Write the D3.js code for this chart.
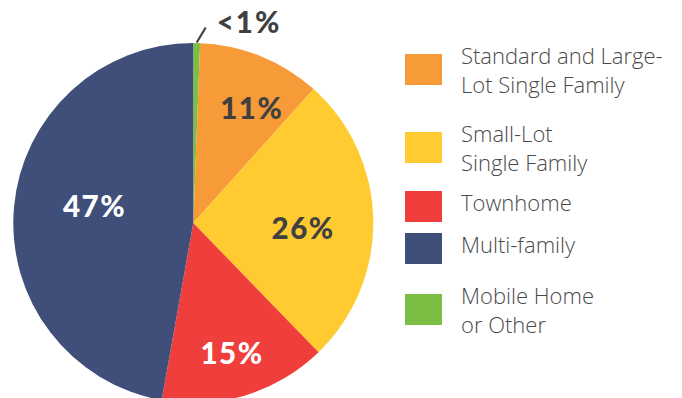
<!DOCTYPE html>
<html>
<head>
<meta charset="utf-8">
<script src="https://cdn.jsdelivr.net/npm/d3@7"></script>
<style>
  html, body { margin: 0; padding: 0; background: #fff; }
  svg { display: block; }
</style>
</head>
<body>
<svg id="chart" width="682" height="398"></svg>
<script>
// Housing type shares (percent), in drawing order clockwise from 12 o'clock
const categories = ["Mobile Home or Other", "Standard and Large-Lot Single Family", "Small-Lot Single Family", "Townhome", "Multi-family"];
const shares = [0.6, 11, 26, 15, 47];
const shareLabels = ["<1%", "11%", "26%", "15%", "47%"];
const colors = ["#7abf43", "#f79a38", "#ffcb31", "#ef3e3b", "#404f7a"];

// Legend order and wrapped lines
const legendOrder = [1, 2, 3, 4, 0];
const legendLines = [
  ["Mobile Home", "or Other"],
  ["Standard and Large-", "Lot Single Family"],
  ["Small-Lot", "Single Family"],
  ["Townhome"],
  ["Multi-family"]
];

const svg = d3.select("#chart");
const cx = 193.3, cy = 223, R = 180;

const pie = d3.pie().sort(null).value(d => d)(shares);
const arc = d3.arc().innerRadius(0).outerRadius(R);

const g = svg.append("g").attr("transform", `translate(${cx},${cy})`);

g.selectAll("path.slice")
  .data(pie)
  .join("path")
  .attr("class", "slice")
  .attr("d", arc)
  .attr("fill", (d, i) => colors[i]);

// Label placement: radius and angular nudge (radians) per slice
const labelPlace = [
  null,
  { r: 128, da: 0.09 },
  { r: 110, da: 0.07 },
  { r: 137, da: 0.01 },
  { r: 100, da: 0.07 }
];
const labelColor = [null, "#404040", "#404040", "#ffffff", "#ffffff"];
const pctFont = "Lato, 'DejaVu Sans', sans-serif";

pie.forEach((d, i) => {
  if (!labelPlace[i]) return;
  const a = (d.startAngle + d.endAngle) / 2 + labelPlace[i].da;
  const x = Math.sin(a) * labelPlace[i].r;
  const y = -Math.cos(a) * labelPlace[i].r;
  g.append("text")
    .attr("x", x)
    .attr("y", y + 10)
    .attr("text-anchor", "middle")
    .attr("font-family", pctFont)
    .attr("font-weight", 900)
    .attr("font-size", 29.5)
    .attr("letter-spacing", 1.5)
    .attr("fill", labelColor[i])
    .text(shareLabels[i]);
});

// Small slice: leader line and outside label
{
  const d = pie[0];
  const a = (d.startAngle + d.endAngle) / 2;
  const p1 = [Math.sin(a) * (R + 0.5), -Math.cos(a) * (R + 0.5)];
  const p2 = [p1[0] + 9, p1[1] - 15];
  g.append("line")
    .attr("x1", p1[0]).attr("y1", p1[1])
    .attr("x2", p2[0]).attr("y2", p2[1])
    .attr("stroke", "#404040")
    .attr("stroke-width", 2.2);
  g.append("text")
    .attr("x", p2[0] + 11)
    .attr("y", p2[1] + 5.5)
    .attr("font-family", pctFont)
    .attr("font-weight", 900)
    .attr("font-size", 29.5)
    .attr("letter-spacing", 2)
    .attr("fill", "#404040")
    .text(shareLabels[0]);
}

// Legend
const legendTop = [54, 132, 191, 233, 294];
const legend = svg.append("g");
legendOrder.forEach((ci, k) => {
  const y0 = legendTop[k];
  legend.append("rect")
    .attr("x", 405).attr("y", y0)
    .attr("width", 37).attr("height", 31)
    .attr("fill", colors[ci]);
  const lines = legendLines[ci];
  const t = legend.append("text")
    .attr("font-family", "'Open Sans', Lato, sans-serif")
    .attr("font-weight", 300)
    .attr("font-size", 22)
    .attr("fill", "#4a4a4a");
  const first = lines.length === 1 ? y0 + 20 : y0 + 9.5;
  lines.forEach((ln, j) => {
    t.append("tspan").attr("x", 461).attr("y", first + j * 29.5).text(ln);
  });
});
</script>
</body>
</html>
